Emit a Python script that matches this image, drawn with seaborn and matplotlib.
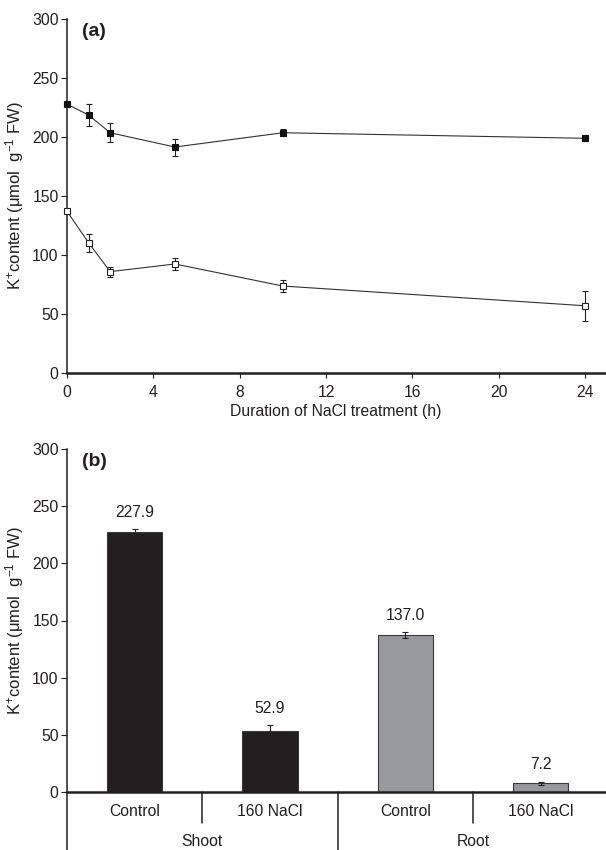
import matplotlib
matplotlib.use("Agg")
import matplotlib.pyplot as plt
import matplotlib.transforms as mtransforms
import numpy as np
import pandas as pd
import seaborn as sns

# ---------------- data ----------------
hours = [0, 1, 2, 5, 10, 24]
shoot_k = [227.9, 218.6, 203.6, 191.5, 203.6, 198.9]
shoot_err = [2.0, 9.6, 8.2, 7.2, 3.0, 2.0]
root_k = [137.0, 110.4, 85.9, 92.4, 73.7, 57.0]
root_err = [1.5, 7.5, 4.2, 5.2, 5.2, 12.7]

bar_keys = ["Shoot Control", "Shoot 160 NaCl", "Root Control", "Root 160 NaCl"]
bar_labels = ["Control", "160 NaCl", "Control", "160 NaCl"]
bar_values = [227.9, 52.9, 137.0, 7.2]
bar_err = [2.0, 5.3, 2.6, 1.5]
groups = ["Shoot", "Root"]
bar_colors = ["#231f20", "#231f20", "#98999c", "#98999c"]

yticks = [0, 50, 100, 150, 200, 250, 300]
xticks_a = [0, 4, 8, 12, 16, 20, 24]

# ---------------- style ----------------
sns.set_style("ticks")
plt.rcParams["font.family"] = ["Liberation Sans", "DejaVu Sans"]
plt.rcParams["mathtext.fontset"] = "custom"
plt.rcParams["mathtext.rm"] = "Liberation Sans"
plt.rcParams["mathtext.it"] = "Liberation Sans:italic"
plt.rcParams["mathtext.bf"] = "Liberation Sans:bold"

TXT = "#231f20"
FS = 11.3
YFS = 12
ylabel = "K$^{+}$content (μmol  g$^{-1}$ FW)"

fig = plt.figure(figsize=(6.06, 8.5), dpi=100)
ax_a = fig.add_axes([67 / 606, 1 - 373 / 850, (605 - 67) / 606, (373 - 19) / 850])
ax_b = fig.add_axes([67 / 606, 1 - 791.7 / 850, (605 - 67) / 606, (791.7 - 449.3) / 850])

# ---------------- panel (a) ----------------
df_a = pd.DataFrame({
    "h": hours * 2,
    "k": shoot_k + root_k,
    "part": ["Shoot"] * len(hours) + ["Root"] * len(hours),
})
sns.lineplot(data=df_a[df_a.part == "Shoot"], x="h", y="k", ax=ax_a, color="#333333",
             lw=0.8, marker="s", markersize=5, markerfacecolor="#111111",
             markeredgecolor="#111111", markeredgewidth=0.8, errorbar=None, zorder=3)
sns.lineplot(data=df_a[df_a.part == "Root"], x="h", y="k", ax=ax_a, color="#333333",
             lw=0.8, marker="s", markersize=5, markerfacecolor="white",
             markeredgecolor="#222222", markeredgewidth=0.8, errorbar=None, zorder=3)
for ln in ax_a.lines:
    ln.set_clip_on(False)
for yv, ye in [(shoot_k, shoot_err), (root_k, root_err)]:
    eb = ax_a.errorbar(hours, yv, yerr=ye, fmt="none", ecolor="#222222",
                       elinewidth=0.8, capsize=2, capthick=0.8, zorder=2)
    for art in eb.lines[1] + eb.lines[2]:
        art.set_clip_on(False)

ax_a.set_xlim(0, 24.93)
ax_a.set_ylim(0, 300)
ax_a.set_xticks(xticks_a)
ax_a.set_yticks(yticks)
ax_a.set_xlabel("Duration of NaCl treatment (h)", fontsize=FS, color=TXT, labelpad=3)
ax_a.set_ylabel(ylabel, fontsize=YFS, color=TXT, labelpad=4)
ax_a.text(0.028, 0.99, "(a)", transform=ax_a.transAxes, fontsize=14,
          fontweight="bold", va="top", ha="left", color=TXT)

# ---------------- panel (b) ----------------
df_b = pd.DataFrame({"key": bar_keys, "value": bar_values})
sns.barplot(data=df_b, x="key", y="value", hue="key", order=bar_keys,
            hue_order=bar_keys, palette=bar_colors, legend=False, width=0.41,
            ax=ax_b, edgecolor="#3a3a3a", linewidth=0.8, errorbar=None, saturation=1)
xpos = np.arange(len(bar_keys))
ax_b.errorbar(xpos, bar_values, yerr=bar_err, fmt="none", ecolor="#222222",
              elinewidth=0.8, capsize=2, capthick=0.8, zorder=5)
for x, v, e in zip(xpos, bar_values, bar_err):
    ax_b.annotate(f"{v:.1f}", (x, v + e), xytext=(0, 7), textcoords="offset points",
                  ha="center", va="bottom", fontsize=FS, color=TXT)

ax_b.set_xlim(-0.5, 3.475)
ax_b.set_ylim(0, 300)
ax_b.set_yticks(yticks)
ax_b.set_xticks(xpos)
ax_b.set_xticklabels(bar_labels)
ax_b.tick_params(axis="x", length=0, pad=9)
ax_b.set_xlabel("")
ax_b.set_ylabel(ylabel, fontsize=YFS, color=TXT, labelpad=4)
ax_b.text(0.028, 0.99, "(b)", transform=ax_b.transAxes, fontsize=14,
          fontweight="bold", va="top", ha="left", color=TXT)

# group separators and labels
trans = mtransforms.blended_transform_factory(ax_b.transData, ax_b.transAxes)
hpx = 791.7 - 449.3
short = -31 / hpx
long_ = -60 / hpx
for xs in [0.5, 2.5]:
    ax_b.plot([xs, xs], [0, short], transform=trans, color=TXT, lw=1.1, clip_on=False)
for xs in [-0.5, 1.5]:
    ax_b.plot([xs, xs], [0, long_], transform=trans, color=TXT, lw=1.1, clip_on=False)
for gx, g in zip([0.5, 2.5], groups):
    ax_b.text(gx, -50 / hpx, g, transform=trans, ha="center", va="center",
              fontsize=FS, color=TXT)

for ax in (ax_a, ax_b):
    sns.despine(ax=ax)
    ax.spines["left"].set_linewidth(1.1)
    ax.spines["bottom"].set_linewidth(1.8)
    ax.spines["left"].set_color(TXT)
    ax.spines["bottom"].set_color(TXT)
    ax.tick_params(axis="both", labelsize=FS, colors=TXT, width=0.8)
    ax.tick_params(axis="y", length=4.5, pad=1.5)
ax_a.tick_params(axis="x", length=3.5, pad=5)

fig.savefig("out.png", dpi=100, facecolor="white")
